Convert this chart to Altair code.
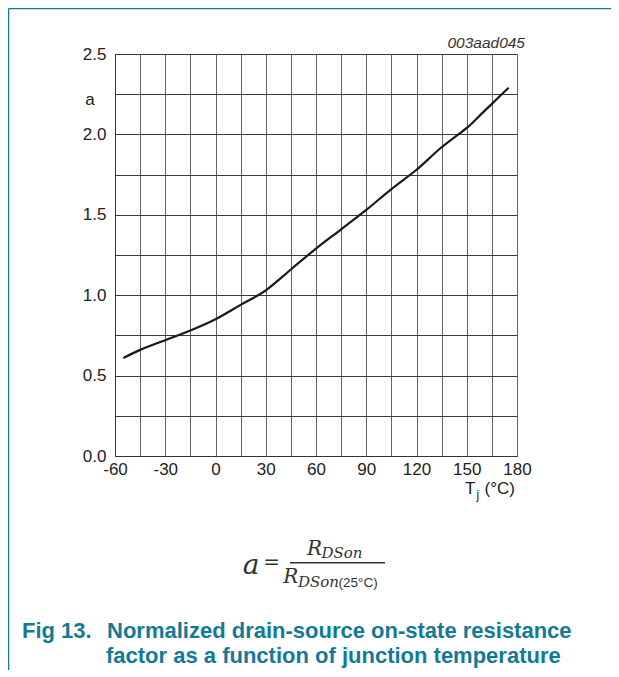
import altair as alt
import pandas as pd

# Curve
temps = [-55, -45, -30, -15, 0, 15, 30, 45, 60, 75, 90, 105, 120, 135, 145, 150, 160, 165, 175]
factors = [0.61, 0.66, 0.72, 0.78, 0.85, 0.94, 1.03, 1.16, 1.29, 1.41, 1.53, 1.66, 1.78, 1.92, 2.00, 2.04, 2.14, 2.19, 2.29]

x_ticks = list(range(-60, 181, 15))
y_ticks = [i * 0.25 for i in range(11)]

df = pd.DataFrame({"T": temps, "a": factors})
dummy = pd.DataFrame({"k": [0]})

TEAL = "#137a96"
SANS = "Liberation Sans"
SERIF = "DejaVu Serif"

xs = alt.Scale(domain=[-60, 180], nice=False, zero=False)
ys = alt.Scale(domain=[0, 2.5], nice=False, zero=False)

xaxis = alt.Axis(values=x_ticks, title=None, grid=True, gridColor="#666", gridWidth=1,
                 ticks=False, domainColor="#333", labelFont=SANS, labelFontSize=17,
                 labelColor="#222", labelPadding=5, labelFlush=False, labelOverlap=False,
                 labelExpr="datum.value % 30 == 0 ? toString(datum.value) : ''")
yaxis = alt.Axis(values=y_ticks, title=None, grid=True, gridColor="#3a3a3a", gridWidth=1,
                 ticks=False, domainColor="#333", labelFont=SANS, labelFontSize=17,
                 labelColor="#222", labelPadding=9, labelFlush=False, labelOverlap=False,
                 labelExpr="(datum.value * 2) % 1 == 0 ? format(datum.value, '.1f') : ''")

line = alt.Chart(df).mark_line(color="#1a1a1a", strokeWidth=2.2, interpolate="monotone").encode(
    x=alt.X("T:Q", scale=xs, axis=xaxis),
    y=alt.Y("a:Q", scale=ys, axis=yaxis),
)


def txt(text, x, y, size, font=SANS, **kw):
    return alt.Chart(dummy).mark_text(text=text, font=font, fontSize=size, **kw).encode(
        x=alt.value(x), y=alt.value(y))


def rule(x1, x2, y1, y2, color, width):
    return alt.Chart(dummy).mark_rule(color=color, strokeWidth=width).encode(
        x=alt.value(x1), x2=alt.value(x2), y=alt.value(y1), y2=alt.value(y2))


layers = [
    line,
    # axis titles and figure code
    txt("a", -25, 46, 17, color="#222", align="center", baseline="middle"),
    txt("003aad045", 410, -11, 15.5, color="#333", fontStyle="italic", align="right", baseline="middle"),
    txt("T", 350, 435, 17, color="#222", align="left", baseline="middle"),
    txt("j", 361.5, 441, 12, color="#222", align="left", baseline="middle"),
    txt("(°C)", 400, 435, 17, color="#222", align="right", baseline="middle"),
    # formula
    txt("a", 136, 520, 28, font=SERIF, fontStyle="italic", color="#333", align="center", baseline="alphabetic"),
    txt("=", 156.5, 515, 20, font=SERIF, color="#333", align="center", baseline="alphabetic"),
    rule(175, 270, 508.7, 508.7, "#333", 1.5),
    txt("R", 192, 501, 20, font=SERIF, fontStyle="italic", color="#333", align="left", baseline="alphabetic"),
    txt("DSon", 206.5, 504, 15, font=SERIF, fontStyle="italic", color="#333", align="left", baseline="alphabetic"),
    txt("R", 168.3, 529.3, 20, font=SERIF, fontStyle="italic", color="#333", align="left", baseline="alphabetic"),
    txt("DSon", 183, 533, 15, font=SERIF, fontStyle="italic", color="#333", align="left", baseline="alphabetic"),
    txt("(25°C)", 223.5, 532.5, 13.5, color="#333", align="left", baseline="alphabetic"),
    # caption
    txt("Fig 13.", -93, 584, 22, color=TEAL, fontWeight="bold", align="left", baseline="alphabetic"),
    txt("Normalized drain-source on-state resistance", -8, 584, 22, color=TEAL, fontWeight="bold", align="left", baseline="alphabetic"),
    txt("factor as a function of junction temperature", -9, 609, 22, color=TEAL, fontWeight="bold", align="left", baseline="alphabetic"),
    # page frame
    rule(-106.5, 510, -45.5, -45.5, TEAL, 1.5),
    rule(-106.5, -106.5, -45.5, 616, TEAL, 1.5),
]

chart = alt.layer(*layers).properties(
    width=402, height=402,
    padding={"left": 107, "top": 46, "right": 94, "bottom": 214},
    autosize=alt.AutoSizeParams(type="none"),
).configure_view(stroke=None).configure(background="white")

chart.save("out.html", embed_options={"renderer": "svg", "actions": False})
